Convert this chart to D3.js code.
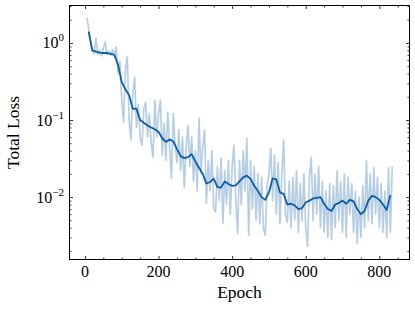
<!DOCTYPE html>
<html>
<head>
<meta charset="utf-8">
<script src="https://cdn.jsdelivr.net/npm/d3@7"></script>
<style>
  body { margin: 0; background: #fff; }
  text { font-family: "Liberation Serif", "DejaVu Serif", serif; fill: #000; }
</style>
</head>
<body>
<svg id="chart" width="415" height="309"></svg>
<script>
// raw loss, one value every 5 epochs starting at epoch 5
const rawStart = 5;
const rawStep = 5;
const rawLoss = [
  2.15, 1.55, 1.05, 0.82, 0.72, 1.15, 0.70, 0.80, 0.68, 0.86,
  1.03, 0.70, 0.78, 0.69, 0.82, 0.70, 0.89, 0.40, 0.58, 0.18,
  0.094, 0.45, 0.66, 0.10, 0.055, 0.22, 0.36, 0.08, 0.16, 0.06,
  0.047, 0.14, 0.17, 0.06, 0.12, 0.05, 0.033, 0.18, 0.06, 0.12,
  0.18, 0.035, 0.09, 0.03, 0.127, 0.045, 0.0175, 0.12, 0.05, 0.028,
  0.075, 0.022, 0.06, 0.0135, 0.045, 0.085, 0.025, 0.06, 0.016, 0.04,
  0.012, 0.105, 0.02, 0.045, 0.074, 0.0083, 0.03, 0.012, 0.04, 0.007,
  0.0064, 0.025, 0.009, 0.032, 0.0046, 0.022, 0.008, 0.03, 0.006, 0.025,
  0.047, 0.009, 0.0034, 0.03, 0.008, 0.04, 0.012, 0.058, 0.0032, 0.03,
  0.007, 0.025, 0.005, 0.02, 0.0045, 0.018, 0.004, 0.0032, 0.014, 0.02,
  0.043, 0.009, 0.035, 0.006, 0.028, 0.0045, 0.02, 0.055, 0.006, 0.0047,
  0.016, 0.004, 0.018, 0.005, 0.022, 0.0035, 0.015, 0.005, 0.02, 0.004,
  0.0023, 0.018, 0.033, 0.005, 0.02, 0.006, 0.025, 0.004, 0.016, 0.0035,
  0.012, 0.003, 0.015, 0.0028, 0.014, 0.004, 0.022, 0.005, 0.016, 0.0035,
  0.02, 0.003, 0.018, 0.006, 0.015, 0.0035, 0.012, 0.0025, 0.01, 0.003,
  0.014, 0.004, 0.030, 0.005, 0.02, 0.0045, 0.024, 0.006, 0.018, 0.004,
  0.015, 0.0035, 0.012, 0.003, 0.024, 0.0035, 0.025
];

// smoothed loss, one value every 10 epochs starting at epoch 10
const smoothStart = 10;
const smoothStep = 10;
const smoothLoss = [
  1.40, 0.80, 0.77, 0.75, 0.74, 0.74, 0.72, 0.70, 0.52, 0.31,
  0.25, 0.21, 0.14, 0.14, 0.10, 0.092, 0.085, 0.080, 0.076, 0.070,
  0.058, 0.052, 0.056, 0.053, 0.042, 0.034, 0.032, 0.033, 0.036, 0.029,
  0.024, 0.020, 0.015, 0.0157, 0.0174, 0.0135, 0.0133, 0.016, 0.0148, 0.0140,
  0.0142, 0.016, 0.018, 0.019, 0.0172, 0.0140, 0.0120, 0.0100, 0.0092, 0.0115,
  0.0175, 0.0170, 0.0115, 0.0110, 0.0080, 0.0082, 0.0078, 0.0070, 0.0072, 0.0085,
  0.0090, 0.0096, 0.0098, 0.0100, 0.0082, 0.0070, 0.0066, 0.0080, 0.0084, 0.0090,
  0.0082, 0.0092, 0.0088, 0.0070, 0.0060, 0.0066, 0.0090, 0.0104, 0.0100, 0.0092,
  0.0080, 0.0068, 0.0106
];

const xMajor = [0, 200, 400, 600, 800];
const xMinor = [50, 100, 150, 250, 300, 350, 450, 500, 550, 650, 700, 750, 850];
const yMajor = [1e-2, 1e-1, 1];
const yMajorExp = ["\u22122", "\u22121", "0"];
const yMinor = [2e-3, 3e-3, 4e-3, 5e-3, 6e-3, 7e-3, 8e-3, 9e-3,
  2e-2, 3e-2, 4e-2, 5e-2, 6e-2, 7e-2, 8e-2, 9e-2,
  0.2, 0.3, 0.4, 0.5, 0.6, 0.7, 0.8, 0.9, 2, 3];

const rawData = rawLoss.map((v, i) => [rawStart + i * rawStep, v]);
const smoothData = smoothLoss.map((v, i) => [smoothStart + i * smoothStep, v]);

const plotLeft = 69.5, plotRight = 409.5, plotTop = 5.5, plotBottom = 259.5;

const x = d3.scaleLinear().domain([-42, 882]).range([plotLeft, plotRight]);
const y = d3.scaleLog().domain([1.55e-3, 3.06]).range([plotBottom, plotTop]);

const svg = d3.select('#chart');

svg.append('clipPath').attr('id', 'plot-clip')
  .append('rect')
  .attr('x', plotLeft).attr('y', plotTop)
  .attr('width', plotRight - plotLeft).attr('height', plotBottom - plotTop);

const line = d3.line().x(d => x(d[0])).y(d => y(d[1]));

const plot = svg.append('g').attr('clip-path', 'url(#plot-clip)');

plot.append('path')
  .datum(rawData)
  .attr('d', line)
  .attr('fill', 'none')
  .attr('stroke', '#0C5DA5')
  .attr('stroke-opacity', 0.3)
  .attr('stroke-width', 1.7)
  .attr('stroke-linejoin', 'round');

plot.append('path')
  .datum(smoothData)
  .attr('d', line)
  .attr('fill', 'none')
  .attr('stroke', '#0C5DA5')
  .attr('stroke-width', 1.8)
  .attr('stroke-linejoin', 'round');

// inward ticks on all four sides
function addTicks(axisFn, scale, values, size, transform) {
  const g = svg.append('g')
    .attr('transform', transform)
    .call(axisFn(scale).tickValues(values).tickSize(-size).tickFormat(''));
  g.select('.domain').remove();
  g.selectAll('line').attr('stroke', '#000').attr('stroke-width', 0.8);
  return g;
}

addTicks(d3.axisBottom, x, xMajor, 3.5, `translate(0,${plotBottom})`);
addTicks(d3.axisBottom, x, xMinor, 2, `translate(0,${plotBottom})`);
addTicks(d3.axisTop, x, xMajor, 3.5, `translate(0,${plotTop})`);
addTicks(d3.axisTop, x, xMinor, 2, `translate(0,${plotTop})`);
addTicks(d3.axisLeft, y, yMajor, 3.5, `translate(${plotLeft},0)`);
addTicks(d3.axisLeft, y, yMinor, 2, `translate(${plotLeft},0)`);
addTicks(d3.axisRight, y, yMajor, 3.5, `translate(${plotRight},0)`);
addTicks(d3.axisRight, y, yMinor, 2, `translate(${plotRight},0)`);

// frame
svg.append('rect')
  .attr('x', plotLeft).attr('y', plotTop)
  .attr('width', plotRight - plotLeft).attr('height', plotBottom - plotTop)
  .attr('fill', 'none')
  .attr('stroke', '#000')
  .attr('stroke-width', 1);

// x tick labels
svg.append('g').selectAll('text')
  .data(xMajor)
  .join('text')
  .attr('x', d => x(d))
  .attr('y', 277)
  .attr('text-anchor', 'middle')
  .attr('font-size', 16)
  .text(d => d);

// y tick labels with superscript exponents
const yLab = svg.append('g').selectAll('text')
  .data(yMajor)
  .join('text')
  .attr('x', 64)
  .attr('y', d => y(d) + 5.5)
  .attr('text-anchor', 'end')
  .attr('font-size', 16);
yLab.append('tspan').text('10');
yLab.append('tspan')
  .attr('dy', -7)
  .attr('font-size', 11)
  .text((d, i) => yMajorExp[i]);

// axis titles
svg.append('text')
  .attr('x', (plotLeft + plotRight) / 2)
  .attr('y', 298)
  .attr('text-anchor', 'middle')
  .attr('font-size', 17.5)
  .text('Epoch');

svg.append('text')
  .attr('transform', `translate(19,${(plotTop + plotBottom) / 2}) rotate(-90)`)
  .attr('text-anchor', 'middle')
  .attr('font-size', 17.5)
  .text('Total Loss');
</script>
</body>
</html>
